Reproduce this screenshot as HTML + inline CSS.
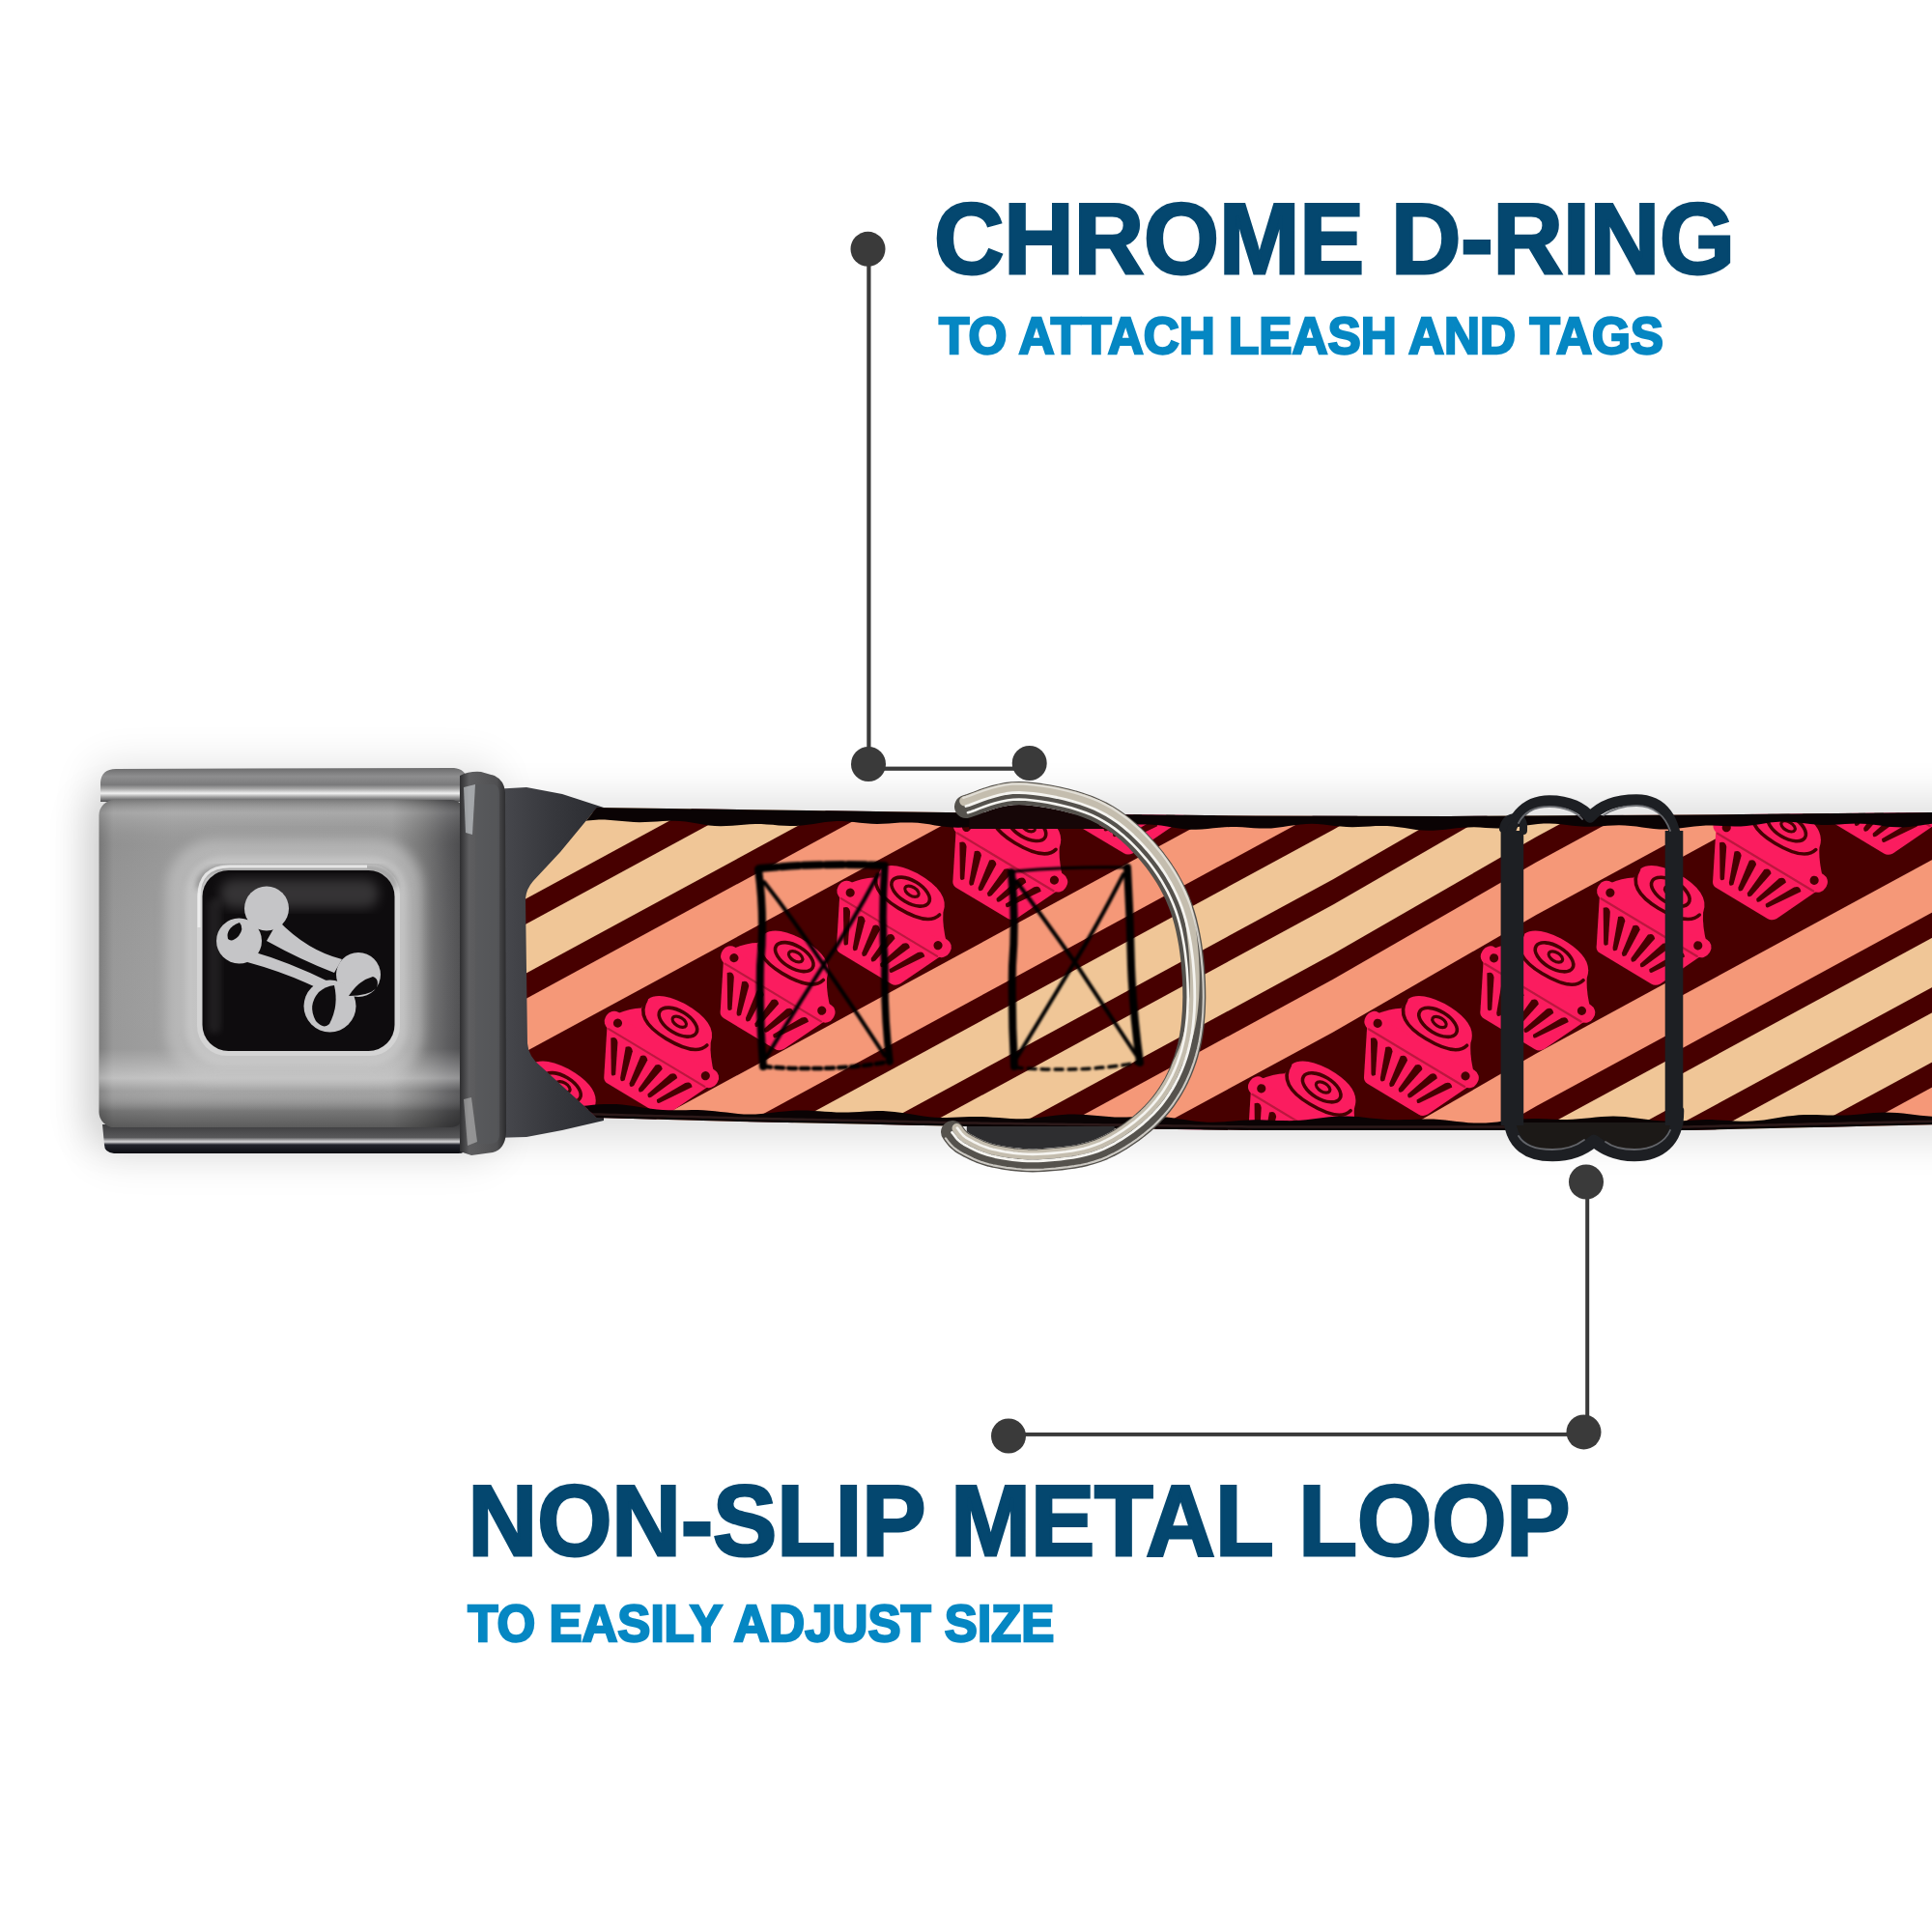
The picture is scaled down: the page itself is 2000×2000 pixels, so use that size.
<!DOCTYPE html>
<html><head><meta charset="utf-8"><title>Chrome D-Ring Collar</title>
<style>
html,body{margin:0;padding:0;background:#fff;width:2000px;height:2000px;overflow:hidden}
svg{display:block}
text{font-family:"Liberation Sans",sans-serif;font-weight:bold}
</style></head><body>
<svg width="2000" height="2000" viewBox="0 0 2000 2000">
<defs>
  <filter id="blur22" x="-20%" y="-50%" width="140%" height="200%"><feGaussianBlur stdDeviation="22"/></filter>
  <filter id="blur6" x="-20%" y="-20%" width="140%" height="140%"><feGaussianBlur stdDeviation="6"/></filter>
  <filter id="blur3" x="-20%" y="-20%" width="140%" height="140%"><feGaussianBlur stdDeviation="3"/></filter>
  <filter id="soft" x="0" y="0" width="1" height="1" filterUnits="objectBoundingBox"><feGaussianBlur stdDeviation="0.7"/></filter>
  <filter id="blur1" x="-10%" y="-10%" width="120%" height="120%"><feGaussianBlur stdDeviation="1.1"/></filter>
  <clipPath id="strapClip">
    <path d="M618,836 L800,838.5 L980,841 L1300,844.5 L1500,845 L1745,843.5 L2010,841 L2010,1164 L1745,1170 L1300,1170 L1000,1166 L911,1164 L766,1161 L618,1157 L560,1104 Q547,1094 546,1080 L544,930 Q545,920 552,912 L580,882 Z"/>
  </clipPath>
  <linearGradient id="faceH" x1="102" y1="0" x2="482" y2="0" gradientUnits="userSpaceOnUse">
    <stop offset="0" stop-color="#7c7c7c"/>
    <stop offset="0.04" stop-color="#999999"/>
    <stop offset="0.2" stop-color="#a0a0a0"/>
    <stop offset="0.8" stop-color="#9c9c9c"/>
    <stop offset="0.88" stop-color="#7e7e7e"/>
    <stop offset="0.95" stop-color="#5e5e60"/>
    <stop offset="1" stop-color="#4c4c4e"/>
  </linearGradient>
  <linearGradient id="faceV" x1="0" y1="828" x2="0" y2="1167" gradientUnits="userSpaceOnUse">
    <stop offset="0" stop-color="#000" stop-opacity="0.22"/>
    <stop offset="0.04" stop-color="#fff" stop-opacity="0.12"/>
    <stop offset="0.14" stop-color="#000" stop-opacity="0.05"/>
    <stop offset="0.76" stop-color="#fff" stop-opacity="0"/>
    <stop offset="0.85" stop-color="#fff" stop-opacity="0.38"/>
    <stop offset="0.89" stop-color="#fff" stop-opacity="0.05"/>
    <stop offset="0.95" stop-color="#000" stop-opacity="0.25"/>
    <stop offset="1" stop-color="#000" stop-opacity="0.42"/>
  </linearGradient>
  <linearGradient id="topPlate" x1="0" y1="795" x2="0" y2="830" gradientUnits="userSpaceOnUse">
    <stop offset="0" stop-color="#6c6c6d"/>
    <stop offset="0.25" stop-color="#8e8e8f"/>
    <stop offset="0.5" stop-color="#7a7a7b"/>
    <stop offset="0.62" stop-color="#a8a8a8"/>
    <stop offset="0.75" stop-color="#f0f0f0"/>
    <stop offset="0.86" stop-color="#a0a0a0"/>
    <stop offset="1" stop-color="#4e4e50"/>
  </linearGradient>
  <linearGradient id="botPlate" x1="0" y1="1164" x2="0" y2="1194" gradientUnits="userSpaceOnUse">
    <stop offset="0" stop-color="#3c3c3e"/>
    <stop offset="0.45" stop-color="#58585a"/>
    <stop offset="0.6" stop-color="#d8d8da"/>
    <stop offset="0.7" stop-color="#22242c"/>
    <stop offset="1" stop-color="#0c0d12"/>
  </linearGradient>
  <linearGradient id="clipG" x1="476" y1="0" x2="524" y2="0" gradientUnits="userSpaceOnUse">
    <stop offset="0" stop-color="#2e2e30"/>
    <stop offset="0.2" stop-color="#5e5e60"/>
    <stop offset="0.8" stop-color="#505052"/>
    <stop offset="1" stop-color="#2a2a2c"/>
  </linearGradient>
  <linearGradient id="gloss" x1="0" y1="912" x2="0" y2="962" gradientUnits="userSpaceOnUse">
    <stop offset="0" stop-color="#fff" stop-opacity="0.0"/>
    <stop offset="0.3" stop-color="#fff" stop-opacity="0.14"/>
    <stop offset="1" stop-color="#fff" stop-opacity="0"/>
  </linearGradient>
<linearGradient id="webG" x1="510" y1="0" x2="625" y2="0" gradientUnits="userSpaceOnUse">
    <stop offset="0" stop-color="#4a4b50"/>
    <stop offset="0.5" stop-color="#38393e"/>
    <stop offset="1" stop-color="#2a2b30"/>
  </linearGradient>
<clipPath id="rg1"><rect x="0" y="700" width="1380" height="600"/></clipPath>
  <clipPath id="rg2"><rect x="1380" y="700" width="210" height="600"/></clipPath>
  <clipPath id="rg3"><rect x="1590" y="700" width="143" height="600"/></clipPath>
  <clipPath id="rg4"><rect x="1733" y="700" width="400" height="600"/></clipPath>
<g id="cup">
  <path d="M-62,6 L62,6 L40,54 Q37,59 32,59 L-30,59 Q-35,59 -37,54 Z" fill="#fb1f5e"/>
  <g fill="#470306"><path d="M-51.2,17 Q-47,12 -42.8,17 L-27.4,47 Q-30,52 -32.6,47 Z"/><path d="M-33.2,17 Q-29,12 -24.8,17 L-16.4,47 Q-19,52 -21.6,47 Z"/><path d="M-15.2,17 Q-11,12 -6.8,17 L-5.4,47 Q-8,52 -10.6,47 Z"/><path d="M2.8,17 Q7,12 11.2,17 L5.6,47 Q3,52 0.3999999999999999,47 Z"/><path d="M20.8,17 Q25,12 29.2,17 L16.6,47 Q14,52 11.4,47 Z"/><path d="M38.8,17 Q43,12 47.2,17 L27.6,47 Q25,52 22.4,47 Z"/></g>
  <rect x="-67" y="-10" width="134" height="20" rx="9" fill="#fb1f5e"/>
  <path d="M-60,-6 Q-50,-20 -40,-26 Q-44,-50 -4,-53 Q36,-54 40,-32 Q46,-20 60,-6 Z" fill="#fb1f5e"/>
  <g fill="none" stroke="#470306" stroke-linecap="round">
    <path d="M-58,10 L58,10" stroke-width="2.2" opacity="0.35"/>
    <path d="M-40,-36 Q-40,-12 -2,-12 Q34,-12 38,-28" stroke-width="3.6"/>
    <ellipse cx="0" cy="-33" rx="22" ry="11.5" stroke-width="3.6"/>
    <ellipse cx="1" cy="-34" rx="8" ry="4.5" stroke-width="3.2"/>
  </g>
  <circle cx="-53" cy="0" r="4.6" fill="#470306"/>
  <circle cx="53" cy="0" r="4.6" fill="#470306"/>
</g>
</defs>
<rect width="2000" height="2000" fill="#ffffff"/>

<!-- soft shadows -->
<rect x="90" y="828" width="2000" height="350" fill="#000" opacity="0.13" filter="url(#blur22)"/>
<rect x="95" y="790" width="420" height="410" rx="20" fill="#000" opacity="0.10" filter="url(#blur22)"/>

<!-- dark webbing near buckle -->
<path d="M510,817 L545,815 L582,822 L625,836 L625,1160 L582,1170 L545,1177 L510,1178 Z" fill="url(#webG)"/>
<path d="M516,822 L524,822 L524,1172 L516,1172 Z" fill="#47484c" opacity="0.8"/>

<!-- strap pattern -->
<g clip-path="url(#strapClip)"><g filter="url(#soft)">
  <rect x="500" y="800" width="1520" height="400" fill="#470306"/>
<g clip-path="url(#rg1)"><g transform="rotate(-28.5)"><rect x="-200" y="199.4" width="2800" height="48.0" fill="#f59878"/>
<rect x="-200" y="270.4" width="2800" height="45.0" fill="#f0c697"/>
<rect x="-200" y="338.4" width="2800" height="45.0" fill="#f0c697"/>
<rect x="-200" y="406.4" width="2800" height="48.0" fill="#f59878"/>
<rect x="-200" y="580.4" width="2800" height="48.0" fill="#f59878"/>
<rect x="-200" y="651.4" width="2800" height="45.0" fill="#f0c697"/>
<rect x="-200" y="719.4" width="2800" height="45.0" fill="#f0c697"/>
<rect x="-200" y="787.4" width="2800" height="48.0" fill="#f59878"/>
<rect x="-200" y="961.4" width="2800" height="48.0" fill="#f59878"/>
<rect x="-200" y="1032.4" width="2800" height="45.0" fill="#f0c697"/>
<rect x="-200" y="1100.4" width="2800" height="45.0" fill="#f0c697"/>
<rect x="-200" y="1168.4" width="2800" height="48.0" fill="#f59878"/>
<rect x="-200" y="1342.4" width="2800" height="48.0" fill="#f59878"/>
<rect x="-200" y="1413.4" width="2800" height="45.0" fill="#f0c697"/>
<rect x="-200" y="1481.4" width="2800" height="45.0" fill="#f0c697"/>
<rect x="-200" y="1549.4" width="2800" height="48.0" fill="#f59878"/>
<rect x="-200" y="1723.4" width="2800" height="48.0" fill="#f59878"/>
<rect x="-200" y="1794.4" width="2800" height="45.0" fill="#f0c697"/>
<rect x="-200" y="1862.4" width="2800" height="45.0" fill="#f0c697"/>
<rect x="-200" y="1930.4" width="2800" height="48.0" fill="#f59878"/>
<rect x="-200" y="2104.4" width="2800" height="48.0" fill="#f59878"/>
<rect x="-200" y="2175.4" width="2800" height="45.0" fill="#f0c697"/>
<rect x="-200" y="2243.4" width="2800" height="45.0" fill="#f0c697"/>
<rect x="-200" y="2311.4" width="2800" height="48.0" fill="#f59878"/>
<rect x="-200" y="2485.4" width="2800" height="48.0" fill="#f59878"/>
<rect x="-200" y="2556.4" width="2800" height="45.0" fill="#f0c697"/>
<rect x="-200" y="2624.4" width="2800" height="45.0" fill="#f0c697"/>
<rect x="-200" y="2692.4" width="2800" height="48.0" fill="#f59878"/></g></g>
<g clip-path="url(#rg2)"><g transform="matrix(1,-0.033333,0,1,0,46.000)"><g transform="rotate(-28.5)"><rect x="-200" y="199.4" width="2800" height="48.0" fill="#f59878"/>
<rect x="-200" y="270.4" width="2800" height="45.0" fill="#f0c697"/>
<rect x="-200" y="338.4" width="2800" height="45.0" fill="#f0c697"/>
<rect x="-200" y="406.4" width="2800" height="48.0" fill="#f59878"/>
<rect x="-200" y="580.4" width="2800" height="48.0" fill="#f59878"/>
<rect x="-200" y="651.4" width="2800" height="45.0" fill="#f0c697"/>
<rect x="-200" y="719.4" width="2800" height="45.0" fill="#f0c697"/>
<rect x="-200" y="787.4" width="2800" height="48.0" fill="#f59878"/>
<rect x="-200" y="961.4" width="2800" height="48.0" fill="#f59878"/>
<rect x="-200" y="1032.4" width="2800" height="45.0" fill="#f0c697"/>
<rect x="-200" y="1100.4" width="2800" height="45.0" fill="#f0c697"/>
<rect x="-200" y="1168.4" width="2800" height="48.0" fill="#f59878"/>
<rect x="-200" y="1342.4" width="2800" height="48.0" fill="#f59878"/>
<rect x="-200" y="1413.4" width="2800" height="45.0" fill="#f0c697"/>
<rect x="-200" y="1481.4" width="2800" height="45.0" fill="#f0c697"/>
<rect x="-200" y="1549.4" width="2800" height="48.0" fill="#f59878"/>
<rect x="-200" y="1723.4" width="2800" height="48.0" fill="#f59878"/>
<rect x="-200" y="1794.4" width="2800" height="45.0" fill="#f0c697"/>
<rect x="-200" y="1862.4" width="2800" height="45.0" fill="#f0c697"/>
<rect x="-200" y="1930.4" width="2800" height="48.0" fill="#f59878"/>
<rect x="-200" y="2104.4" width="2800" height="48.0" fill="#f59878"/>
<rect x="-200" y="2175.4" width="2800" height="45.0" fill="#f0c697"/>
<rect x="-200" y="2243.4" width="2800" height="45.0" fill="#f0c697"/>
<rect x="-200" y="2311.4" width="2800" height="48.0" fill="#f59878"/>
<rect x="-200" y="2485.4" width="2800" height="48.0" fill="#f59878"/>
<rect x="-200" y="2556.4" width="2800" height="45.0" fill="#f0c697"/>
<rect x="-200" y="2624.4" width="2800" height="45.0" fill="#f0c697"/>
<rect x="-200" y="2692.4" width="2800" height="48.0" fill="#f59878"/></g></g></g>
<g clip-path="url(#rg3)"><g transform="translate(0,-7)"><g transform="rotate(-28.5)"><rect x="-200" y="199.4" width="2800" height="48.0" fill="#f59878"/>
<rect x="-200" y="270.4" width="2800" height="45.0" fill="#f0c697"/>
<rect x="-200" y="338.4" width="2800" height="45.0" fill="#f0c697"/>
<rect x="-200" y="406.4" width="2800" height="48.0" fill="#f59878"/>
<rect x="-200" y="580.4" width="2800" height="48.0" fill="#f59878"/>
<rect x="-200" y="651.4" width="2800" height="45.0" fill="#f0c697"/>
<rect x="-200" y="719.4" width="2800" height="45.0" fill="#f0c697"/>
<rect x="-200" y="787.4" width="2800" height="48.0" fill="#f59878"/>
<rect x="-200" y="961.4" width="2800" height="48.0" fill="#f59878"/>
<rect x="-200" y="1032.4" width="2800" height="45.0" fill="#f0c697"/>
<rect x="-200" y="1100.4" width="2800" height="45.0" fill="#f0c697"/>
<rect x="-200" y="1168.4" width="2800" height="48.0" fill="#f59878"/>
<rect x="-200" y="1342.4" width="2800" height="48.0" fill="#f59878"/>
<rect x="-200" y="1413.4" width="2800" height="45.0" fill="#f0c697"/>
<rect x="-200" y="1481.4" width="2800" height="45.0" fill="#f0c697"/>
<rect x="-200" y="1549.4" width="2800" height="48.0" fill="#f59878"/>
<rect x="-200" y="1723.4" width="2800" height="48.0" fill="#f59878"/>
<rect x="-200" y="1794.4" width="2800" height="45.0" fill="#f0c697"/>
<rect x="-200" y="1862.4" width="2800" height="45.0" fill="#f0c697"/>
<rect x="-200" y="1930.4" width="2800" height="48.0" fill="#f59878"/>
<rect x="-200" y="2104.4" width="2800" height="48.0" fill="#f59878"/>
<rect x="-200" y="2175.4" width="2800" height="45.0" fill="#f0c697"/>
<rect x="-200" y="2243.4" width="2800" height="45.0" fill="#f0c697"/>
<rect x="-200" y="2311.4" width="2800" height="48.0" fill="#f59878"/>
<rect x="-200" y="2485.4" width="2800" height="48.0" fill="#f59878"/>
<rect x="-200" y="2556.4" width="2800" height="45.0" fill="#f0c697"/>
<rect x="-200" y="2624.4" width="2800" height="45.0" fill="#f0c697"/>
<rect x="-200" y="2692.4" width="2800" height="48.0" fill="#f59878"/></g></g></g>
<g clip-path="url(#rg4)"><g transform="translate(0,15)"><g transform="rotate(-28.5)"><rect x="-200" y="199.4" width="2800" height="48.0" fill="#f59878"/>
<rect x="-200" y="270.4" width="2800" height="45.0" fill="#f0c697"/>
<rect x="-200" y="338.4" width="2800" height="45.0" fill="#f0c697"/>
<rect x="-200" y="406.4" width="2800" height="48.0" fill="#f59878"/>
<rect x="-200" y="580.4" width="2800" height="48.0" fill="#f59878"/>
<rect x="-200" y="651.4" width="2800" height="45.0" fill="#f0c697"/>
<rect x="-200" y="719.4" width="2800" height="45.0" fill="#f0c697"/>
<rect x="-200" y="787.4" width="2800" height="48.0" fill="#f59878"/>
<rect x="-200" y="961.4" width="2800" height="48.0" fill="#f59878"/>
<rect x="-200" y="1032.4" width="2800" height="45.0" fill="#f0c697"/>
<rect x="-200" y="1100.4" width="2800" height="45.0" fill="#f0c697"/>
<rect x="-200" y="1168.4" width="2800" height="48.0" fill="#f59878"/>
<rect x="-200" y="1342.4" width="2800" height="48.0" fill="#f59878"/>
<rect x="-200" y="1413.4" width="2800" height="45.0" fill="#f0c697"/>
<rect x="-200" y="1481.4" width="2800" height="45.0" fill="#f0c697"/>
<rect x="-200" y="1549.4" width="2800" height="48.0" fill="#f59878"/>
<rect x="-200" y="1723.4" width="2800" height="48.0" fill="#f59878"/>
<rect x="-200" y="1794.4" width="2800" height="45.0" fill="#f0c697"/>
<rect x="-200" y="1862.4" width="2800" height="45.0" fill="#f0c697"/>
<rect x="-200" y="1930.4" width="2800" height="48.0" fill="#f59878"/>
<rect x="-200" y="2104.4" width="2800" height="48.0" fill="#f59878"/>
<rect x="-200" y="2175.4" width="2800" height="45.0" fill="#f0c697"/>
<rect x="-200" y="2243.4" width="2800" height="45.0" fill="#f0c697"/>
<rect x="-200" y="2311.4" width="2800" height="48.0" fill="#f59878"/>
<rect x="-200" y="2485.4" width="2800" height="48.0" fill="#f59878"/>
<rect x="-200" y="2556.4" width="2800" height="45.0" fill="#f0c697"/>
<rect x="-200" y="2624.4" width="2800" height="45.0" fill="#f0c697"/>
<rect x="-200" y="2692.4" width="2800" height="48.0" fill="#f59878"/></g></g></g>
<use href="#cup" transform="translate(444.1,1221.4) rotate(31)"/>
<use href="#cup" transform="translate(564.5,1153.9) rotate(31)"/>
<use href="#cup" transform="translate(684.9,1086.4) rotate(31)"/>
<use href="#cup" transform="translate(805.3,1018.9) rotate(31)"/>
<use href="#cup" transform="translate(925.6,951.4) rotate(31)"/>
<use href="#cup" transform="translate(1046.0,883.8) rotate(31)"/>
<use href="#cup" transform="translate(1166.4,816.3) rotate(31)"/>
<use href="#cup" transform="translate(1230.9,1221.6) rotate(31)"/>
<use href="#cup" transform="translate(1351.2,1154.1) rotate(31)"/>
<use href="#cup" transform="translate(1471.6,1086.6) rotate(31)"/>
<use href="#cup" transform="translate(1592.0,1019.1) rotate(31)"/>
<use href="#cup" transform="translate(1712.3,951.5) rotate(31)"/>
<use href="#cup" transform="translate(1832.7,884.0) rotate(31)"/>
<use href="#cup" transform="translate(1953.1,816.5) rotate(31)"/>
  </g>
  <!-- top/bottom woven edges -->
<path d="M500,828.0 L506,828.1 L512,828.2 L518,828.3 L524,828.4 L530,828.5 L536,828.6 L542,828.7 L548,828.8 L554,828.9 L560,829.0 L566,829.1 L572,829.2 L578,829.3 L584,829.4 L590,829.5 L596,829.6 L602,829.7 L608,829.8 L614,829.9 L620,830.0 L626,830.1 L632,830.2 L638,830.3 L644,830.4 L650,830.4 L656,830.5 L662,830.6 L668,830.7 L674,830.8 L680,830.9 L686,830.9 L692,831.0 L698,831.1 L704,831.2 L710,831.3 L716,831.3 L722,831.4 L728,831.5 L734,831.6 L740,831.7 L746,831.8 L752,831.8 L758,831.9 L764,832.0 L770,832.1 L776,832.2 L782,832.3 L788,832.3 L794,832.4 L800,832.5 L806,832.6 L812,832.7 L818,832.8 L824,832.8 L830,832.9 L836,833.0 L842,833.1 L848,833.2 L854,833.2 L860,833.3 L866,833.4 L872,833.5 L878,833.6 L884,833.7 L890,833.8 L896,833.8 L902,833.9 L908,834.0 L914,834.1 L920,834.2 L926,834.2 L932,834.3 L938,834.4 L944,834.5 L950,834.6 L956,834.7 L962,834.8 L968,834.8 L974,834.9 L980,835.0 L986,835.1 L992,835.1 L998,835.2 L1004,835.3 L1010,835.3 L1016,835.4 L1022,835.5 L1028,835.5 L1034,835.6 L1040,835.7 L1046,835.7 L1052,835.8 L1058,835.9 L1064,835.9 L1070,836.0 L1076,836.0 L1082,836.1 L1088,836.2 L1094,836.2 L1100,836.3 L1106,836.4 L1112,836.4 L1118,836.5 L1124,836.6 L1130,836.6 L1136,836.7 L1142,836.8 L1148,836.8 L1154,836.9 L1160,837.0 L1166,837.0 L1172,837.1 L1178,837.2 L1184,837.2 L1190,837.3 L1196,837.4 L1202,837.4 L1208,837.5 L1214,837.6 L1220,837.6 L1226,837.7 L1232,837.8 L1238,837.8 L1244,837.9 L1250,838.0 L1256,838.0 L1262,838.1 L1268,838.1 L1274,838.2 L1280,838.3 L1286,838.3 L1292,838.4 L1298,838.5 L1304,838.5 L1310,838.5 L1316,838.5 L1322,838.6 L1328,838.6 L1334,838.6 L1340,838.6 L1346,838.6 L1352,838.6 L1358,838.6 L1364,838.7 L1370,838.7 L1376,838.7 L1382,838.7 L1388,838.7 L1394,838.7 L1400,838.8 L1406,838.8 L1412,838.8 L1418,838.8 L1424,838.8 L1430,838.8 L1436,838.8 L1442,838.9 L1448,838.9 L1454,838.9 L1460,838.9 L1466,838.9 L1472,838.9 L1478,838.9 L1484,839.0 L1490,839.0 L1496,839.0 L1502,839.0 L1508,839.0 L1514,838.9 L1520,838.9 L1526,838.8 L1532,838.8 L1538,838.8 L1544,838.7 L1550,838.7 L1556,838.7 L1562,838.6 L1568,838.6 L1574,838.5 L1580,838.5 L1586,838.5 L1592,838.4 L1598,838.4 L1604,838.4 L1610,838.3 L1616,838.3 L1622,838.3 L1628,838.2 L1634,838.2 L1640,838.1 L1646,838.1 L1652,838.1 L1658,838.0 L1664,838.0 L1670,838.0 L1676,837.9 L1682,837.9 L1688,837.8 L1694,837.8 L1700,837.8 L1706,837.7 L1712,837.7 L1718,837.7 L1724,837.6 L1730,837.6 L1736,837.6 L1742,837.5 L1748,837.5 L1754,837.4 L1760,837.4 L1766,837.3 L1772,837.2 L1778,837.2 L1784,837.1 L1790,837.1 L1796,837.0 L1802,837.0 L1808,836.9 L1814,836.8 L1820,836.8 L1826,836.7 L1832,836.7 L1838,836.6 L1844,836.6 L1850,836.5 L1856,836.5 L1862,836.4 L1868,836.3 L1874,836.3 L1880,836.2 L1886,836.2 L1892,836.1 L1898,836.1 L1904,836.0 L1910,835.9 L1916,835.9 L1922,835.8 L1928,835.8 L1934,835.7 L1940,835.7 L1946,835.6 L1952,835.5 L1958,835.5 L1964,835.4 L1970,835.4 L1976,835.3 L1982,835.3 L1988,835.2 L1994,835.2 L2000,835.1 L2006,835.0 L2006,852.2 L2000,852.8 L1994,853.6 L1988,854.5 L1982,855.3 L1976,856.0 L1970,856.4 L1964,856.3 L1958,856.0 L1952,855.4 L1946,854.6 L1940,853.8 L1934,853.1 L1928,852.7 L1922,852.6 L1916,852.7 L1910,853.0 L1904,853.5 L1898,853.8 L1892,854.0 L1886,854.0 L1880,853.6 L1874,853.1 L1868,852.3 L1862,851.6 L1856,851.0 L1850,850.6 L1844,850.6 L1838,851.0 L1832,851.6 L1826,852.5 L1820,853.4 L1814,854.3 L1808,855.0 L1802,855.4 L1796,855.4 L1790,855.3 L1784,855.0 L1778,854.7 L1772,854.5 L1766,854.5 L1760,854.9 L1754,855.4 L1748,856.2 L1742,857.1 L1736,857.8 L1730,858.4 L1724,858.6 L1718,858.5 L1712,858.0 L1706,857.2 L1700,856.4 L1694,855.5 L1688,854.9 L1682,854.4 L1676,854.3 L1670,854.5 L1664,854.8 L1658,855.2 L1652,855.6 L1646,855.8 L1640,855.7 L1634,855.3 L1628,854.7 L1622,854.0 L1616,853.3 L1610,852.7 L1604,852.5 L1598,852.5 L1592,853.0 L1586,853.7 L1580,854.6 L1574,855.6 L1568,856.4 L1562,857.1 L1556,857.4 L1550,857.4 L1544,857.2 L1538,856.9 L1532,856.5 L1526,856.3 L1520,856.4 L1514,856.7 L1508,857.2 L1502,858.0 L1496,858.7 L1490,859.3 L1484,859.7 L1478,859.8 L1472,859.5 L1466,858.9 L1460,858.0 L1454,857.1 L1448,856.2 L1442,855.5 L1436,855.0 L1430,854.9 L1424,855.0 L1418,855.4 L1412,855.8 L1406,856.1 L1400,856.2 L1394,856.0 L1388,855.6 L1382,855.0 L1376,854.2 L1370,853.6 L1364,853.0 L1358,852.8 L1352,853.0 L1346,853.5 L1340,854.2 L1334,855.1 L1328,856.1 L1322,856.8 L1316,857.4 L1310,857.6 L1304,857.5 L1298,857.2 L1292,856.8 L1286,856.3 L1280,856.1 L1274,856.0 L1268,856.2 L1262,856.7 L1256,857.3 L1250,858.0 L1244,858.5 L1238,858.7 L1232,858.7 L1226,858.2 L1220,857.5 L1214,856.6 L1208,855.6 L1202,854.6 L1196,853.9 L1190,853.5 L1184,853.4 L1178,853.5 L1172,853.9 L1166,854.2 L1160,854.5 L1154,854.6 L1148,854.4 L1142,854.0 L1136,853.4 L1130,852.7 L1124,852.0 L1118,851.6 L1112,851.4 L1106,851.6 L1100,852.2 L1094,853.0 L1088,853.9 L1082,854.8 L1076,855.5 L1070,856.0 L1064,856.1 L1058,856.0 L1052,855.6 L1046,855.1 L1040,854.7 L1034,854.4 L1028,854.3 L1022,854.5 L1016,855.0 L1010,855.6 L1004,856.1 L998,856.6 L992,856.8 L986,856.6 L980,856.1 L974,855.3 L968,854.4 L962,853.3 L956,852.4 L950,851.8 L944,851.4 L938,851.4 L932,851.6 L926,852.0 L920,852.4 L914,852.8 L908,852.9 L902,852.7 L896,852.3 L890,851.7 L884,851.0 L878,850.5 L872,850.1 L866,850.1 L860,850.4 L854,851.1 L848,851.9 L842,852.9 L836,853.8 L830,854.5 L824,854.9 L818,855.0 L812,854.8 L806,854.4 L800,853.8 L794,853.4 L788,853.1 L782,853.1 L776,853.3 L770,853.7 L764,854.3 L758,854.8 L752,855.1 L746,855.2 L740,855.0 L734,854.4 L728,853.5 L722,852.5 L716,851.5 L710,850.6 L704,850.0 L698,849.7 L692,849.7 L686,850.0 L680,850.4 L674,850.8 L668,851.1 L662,851.2 L656,851.0 L650,850.6 L644,850.0 L638,849.4 L632,848.9 L626,848.6 L620,848.6 L614,848.9 L608,849.6 L602,850.4 L596,851.3 L590,852.2 L584,852.8 L578,853.1 L572,853.0 L566,852.7 L560,852.2 L554,851.6 L548,851.0 L542,850.6 L536,850.5 L530,850.7 L524,851.1 L518,851.5 L512,851.9 L506,852.1 L500,852.1 Z" fill="#0a0304"/>
<path d="M500,1148.5 L506,1148.2 L512,1147.7 L518,1147.1 L524,1146.4 L530,1145.8 L536,1145.3 L542,1145.0 L548,1144.9 L554,1144.9 L560,1145.1 L566,1145.4 L572,1145.7 L578,1145.9 L584,1145.9 L590,1145.8 L596,1145.4 L602,1145.0 L608,1144.4 L614,1143.7 L620,1143.2 L626,1142.9 L632,1142.9 L638,1143.0 L644,1143.5 L650,1144.2 L656,1145.0 L662,1146.0 L668,1146.9 L674,1147.8 L680,1148.5 L686,1149.0 L692,1149.2 L698,1149.3 L704,1149.3 L710,1149.2 L716,1149.1 L722,1149.1 L728,1149.3 L734,1149.7 L740,1150.2 L746,1150.9 L752,1151.6 L758,1152.3 L764,1153.0 L770,1153.4 L776,1153.5 L782,1153.4 L788,1153.1 L794,1152.5 L800,1151.8 L806,1151.1 L812,1150.4 L818,1149.9 L824,1149.6 L830,1149.5 L836,1149.6 L842,1149.9 L848,1150.3 L854,1150.7 L860,1151.1 L866,1151.4 L872,1151.5 L878,1151.4 L884,1151.2 L890,1150.9 L896,1150.5 L902,1150.2 L908,1150.1 L914,1150.1 L920,1150.4 L926,1150.9 L932,1151.7 L938,1152.6 L944,1153.6 L950,1154.6 L956,1155.5 L962,1156.2 L968,1156.7 L974,1156.9 L980,1156.9 L986,1156.8 L992,1156.5 L998,1156.3 L1004,1156.1 L1010,1156.0 L1016,1156.0 L1022,1156.3 L1028,1156.7 L1034,1157.1 L1040,1157.6 L1046,1157.9 L1052,1158.2 L1058,1158.2 L1064,1157.9 L1070,1157.4 L1076,1156.8 L1082,1156.0 L1088,1155.2 L1094,1154.5 L1100,1153.9 L1106,1153.6 L1112,1153.5 L1118,1153.7 L1124,1154.0 L1130,1154.5 L1136,1155.1 L1142,1155.6 L1148,1156.1 L1154,1156.4 L1160,1156.5 L1166,1156.4 L1172,1156.2 L1178,1156.0 L1184,1155.8 L1190,1155.7 L1196,1155.8 L1202,1156.1 L1208,1156.6 L1214,1157.3 L1220,1158.2 L1226,1159.1 L1232,1160.0 L1238,1160.8 L1244,1161.3 L1250,1161.7 L1256,1161.7 L1262,1161.5 L1268,1161.2 L1274,1160.7 L1280,1160.2 L1286,1159.8 L1292,1159.4 L1298,1159.3 L1304,1159.3 L1310,1159.4 L1316,1159.7 L1322,1159.9 L1328,1160.1 L1334,1160.2 L1340,1160.1 L1346,1159.8 L1352,1159.3 L1358,1158.6 L1364,1157.8 L1370,1157.0 L1376,1156.3 L1382,1155.8 L1388,1155.5 L1394,1155.5 L1400,1155.7 L1406,1156.1 L1412,1156.7 L1418,1157.4 L1424,1158.1 L1430,1158.6 L1436,1159.0 L1442,1159.2 L1448,1159.2 L1454,1159.1 L1460,1158.9 L1466,1158.7 L1472,1158.5 L1478,1158.5 L1484,1158.6 L1490,1159.0 L1496,1159.6 L1502,1160.2 L1508,1160.9 L1514,1161.6 L1520,1162.2 L1526,1162.5 L1532,1162.6 L1538,1162.4 L1544,1162.0 L1550,1161.4 L1556,1160.6 L1562,1159.9 L1568,1159.2 L1574,1158.6 L1580,1158.3 L1586,1158.1 L1592,1158.1 L1598,1158.3 L1604,1158.6 L1610,1158.8 L1616,1158.9 L1622,1158.9 L1628,1158.7 L1634,1158.3 L1640,1157.8 L1646,1157.2 L1652,1156.6 L1658,1156.0 L1664,1155.7 L1670,1155.5 L1676,1155.7 L1682,1156.1 L1688,1156.7 L1694,1157.4 L1700,1158.2 L1706,1159.0 L1712,1159.7 L1718,1160.2 L1724,1160.5 L1730,1160.6 L1736,1160.5 L1742,1160.2 L1748,1159.9 L1754,1159.5 L1760,1159.2 L1766,1159.1 L1772,1159.1 L1778,1159.4 L1784,1159.7 L1790,1160.1 L1796,1160.5 L1802,1160.7 L1808,1160.7 L1814,1160.5 L1820,1160.1 L1826,1159.4 L1832,1158.5 L1838,1157.5 L1844,1156.5 L1850,1155.6 L1856,1154.9 L1862,1154.3 L1868,1154.0 L1874,1153.9 L1880,1154.0 L1886,1154.2 L1892,1154.4 L1898,1154.6 L1904,1154.6 L1910,1154.5 L1916,1154.2 L1922,1153.7 L1928,1153.2 L1934,1152.6 L1940,1152.1 L1946,1151.7 L1952,1151.6 L1958,1151.7 L1964,1152.1 L1970,1152.6 L1976,1153.3 L1982,1154.1 L1988,1154.8 L1994,1155.3 L2000,1155.7 L2006,1155.8 L2006,1170.1 L2000,1170.2 L1994,1170.4 L1988,1170.5 L1982,1170.6 L1976,1170.8 L1970,1170.9 L1964,1171.0 L1958,1171.2 L1952,1171.3 L1946,1171.4 L1940,1171.6 L1934,1171.7 L1928,1171.9 L1922,1172.0 L1916,1172.1 L1910,1172.3 L1904,1172.4 L1898,1172.5 L1892,1172.7 L1886,1172.8 L1880,1172.9 L1874,1173.1 L1868,1173.2 L1862,1173.4 L1856,1173.5 L1850,1173.6 L1844,1173.8 L1838,1173.9 L1832,1174.0 L1826,1174.2 L1820,1174.3 L1814,1174.4 L1808,1174.6 L1802,1174.7 L1796,1174.8 L1790,1175.0 L1784,1175.1 L1778,1175.3 L1772,1175.4 L1766,1175.5 L1760,1175.7 L1754,1175.8 L1748,1175.9 L1742,1176.0 L1736,1176.0 L1730,1176.0 L1724,1176.0 L1718,1176.0 L1712,1176.0 L1706,1176.0 L1700,1176.0 L1694,1176.0 L1688,1176.0 L1682,1176.0 L1676,1176.0 L1670,1176.0 L1664,1176.0 L1658,1176.0 L1652,1176.0 L1646,1176.0 L1640,1176.0 L1634,1176.0 L1628,1176.0 L1622,1176.0 L1616,1176.0 L1610,1176.0 L1604,1176.0 L1598,1176.0 L1592,1176.0 L1586,1176.0 L1580,1176.0 L1574,1176.0 L1568,1176.0 L1562,1176.0 L1556,1176.0 L1550,1176.0 L1544,1176.0 L1538,1176.0 L1532,1176.0 L1526,1176.0 L1520,1176.0 L1514,1176.0 L1508,1176.0 L1502,1176.0 L1496,1176.0 L1490,1176.0 L1484,1176.0 L1478,1176.0 L1472,1176.0 L1466,1176.0 L1460,1176.0 L1454,1176.0 L1448,1176.0 L1442,1176.0 L1436,1176.0 L1430,1176.0 L1424,1176.0 L1418,1176.0 L1412,1176.0 L1406,1176.0 L1400,1176.0 L1394,1176.0 L1388,1176.0 L1382,1176.0 L1376,1176.0 L1370,1176.0 L1364,1176.0 L1358,1176.0 L1352,1176.0 L1346,1176.0 L1340,1176.0 L1334,1176.0 L1328,1176.0 L1322,1176.0 L1316,1176.0 L1310,1176.0 L1304,1176.0 L1298,1176.0 L1292,1175.9 L1286,1175.8 L1280,1175.7 L1274,1175.7 L1268,1175.6 L1262,1175.5 L1256,1175.4 L1250,1175.3 L1244,1175.3 L1238,1175.2 L1232,1175.1 L1226,1175.0 L1220,1174.9 L1214,1174.9 L1208,1174.8 L1202,1174.7 L1196,1174.6 L1190,1174.5 L1184,1174.5 L1178,1174.4 L1172,1174.3 L1166,1174.2 L1160,1174.1 L1154,1174.1 L1148,1174.0 L1142,1173.9 L1136,1173.8 L1130,1173.7 L1124,1173.7 L1118,1173.6 L1112,1173.5 L1106,1173.4 L1100,1173.3 L1094,1173.3 L1088,1173.2 L1082,1173.1 L1076,1173.0 L1070,1172.9 L1064,1172.9 L1058,1172.8 L1052,1172.7 L1046,1172.6 L1040,1172.5 L1034,1172.5 L1028,1172.4 L1022,1172.3 L1016,1172.2 L1010,1172.1 L1004,1172.1 L998,1172.0 L992,1171.8 L986,1171.7 L980,1171.6 L974,1171.4 L968,1171.3 L962,1171.1 L956,1171.0 L950,1170.9 L944,1170.7 L938,1170.6 L932,1170.5 L926,1170.3 L920,1170.2 L914,1170.1 L908,1169.9 L902,1169.8 L896,1169.7 L890,1169.6 L884,1169.4 L878,1169.3 L872,1169.2 L866,1169.1 L860,1168.9 L854,1168.8 L848,1168.7 L842,1168.6 L836,1168.4 L830,1168.3 L824,1168.2 L818,1168.1 L812,1168.0 L806,1167.8 L800,1167.7 L794,1167.6 L788,1167.5 L782,1167.3 L776,1167.2 L770,1167.1 L764,1166.9 L758,1166.8 L752,1166.6 L746,1166.5 L740,1166.3 L734,1166.1 L728,1166.0 L722,1165.8 L716,1165.6 L710,1165.5 L704,1165.3 L698,1165.2 L692,1165.0 L686,1164.8 L680,1164.7 L674,1164.5 L668,1164.4 L662,1164.2 L656,1164.0 L650,1163.9 L644,1163.7 L638,1163.5 L632,1163.4 L626,1163.2 L620,1163.1 L614,1163.0 L608,1162.9 L602,1162.9 L596,1162.8 L590,1162.8 L584,1162.7 L578,1162.7 L572,1162.6 L566,1162.6 L560,1162.5 L554,1162.5 L548,1162.4 L542,1162.4 L536,1162.3 L530,1162.3 L524,1162.2 L518,1162.2 L512,1162.1 L506,1162.1 L500,1162.0 Z" fill="#0a0304"/>
<path d="M500,1152.5 L506,1152.6 L512,1152.6 L518,1152.7 L524,1152.7 L530,1152.8 L536,1152.8 L542,1152.9 L548,1152.9 L554,1153.0 L560,1153.0 L566,1153.1 L572,1153.1 L578,1153.2 L584,1153.2 L590,1153.3 L596,1153.3 L602,1153.4 L608,1153.4 L614,1153.5 L620,1153.6 L626,1153.7 L632,1153.9 L638,1154.0 L644,1154.2 L650,1154.4 L656,1154.5 L662,1154.7 L668,1154.9 L674,1155.0 L680,1155.2 L686,1155.3 L692,1155.5 L698,1155.7 L704,1155.8 L710,1156.0 L716,1156.1 L722,1156.3 L728,1156.5 L734,1156.6 L740,1156.8 L746,1157.0 L752,1157.1 L758,1157.3 L764,1157.4 L770,1157.6 L776,1157.7 L782,1157.8 L788,1158.0 L794,1158.1 L800,1158.2 L806,1158.3 L812,1158.5 L818,1158.6 L824,1158.7 L830,1158.8 L836,1158.9 L842,1159.1 L848,1159.2 L854,1159.3 L860,1159.4 L866,1159.6 L872,1159.7 L878,1159.8 L884,1159.9 L890,1160.1 L896,1160.2 L902,1160.3 L908,1160.4 L914,1160.6 L920,1160.7 L926,1160.8 L932,1161.0 L938,1161.1 L944,1161.2 L950,1161.4 L956,1161.5 L962,1161.6 L968,1161.8 L974,1161.9 L980,1162.1 L986,1162.2 L992,1162.3 L998,1162.5 L1004,1162.6 L1010,1162.6 L1016,1162.7 L1022,1162.8 L1028,1162.9 L1034,1163.0 L1040,1163.0 L1046,1163.1 L1052,1163.2 L1058,1163.3 L1064,1163.4 L1070,1163.4 L1076,1163.5 L1082,1163.6 L1088,1163.7 L1094,1163.8 L1100,1163.8 L1106,1163.9 L1112,1164.0 L1118,1164.1 L1124,1164.2 L1130,1164.2 L1136,1164.3 L1142,1164.4 L1148,1164.5 L1154,1164.6 L1160,1164.6 L1166,1164.7 L1172,1164.8 L1178,1164.9 L1184,1165.0 L1190,1165.0 L1196,1165.1 L1202,1165.2 L1208,1165.3 L1214,1165.4 L1220,1165.4 L1226,1165.5 L1232,1165.6 L1238,1165.7 L1244,1165.8 L1250,1165.8 L1256,1165.9 L1262,1166.0 L1268,1166.1 L1274,1166.2 L1280,1166.2 L1286,1166.3 L1292,1166.4 L1298,1166.5 L1304,1166.5 L1310,1166.5 L1316,1166.5 L1322,1166.5 L1328,1166.5 L1334,1166.5 L1340,1166.5 L1346,1166.5 L1352,1166.5 L1358,1166.5 L1364,1166.5 L1370,1166.5 L1376,1166.5 L1382,1166.5 L1388,1166.5 L1394,1166.5 L1400,1166.5 L1406,1166.5 L1412,1166.5 L1418,1166.5 L1424,1166.5 L1430,1166.5 L1436,1166.5 L1442,1166.5 L1448,1166.5 L1454,1166.5 L1460,1166.5 L1466,1166.5 L1472,1166.5 L1478,1166.5 L1484,1166.5 L1490,1166.5 L1496,1166.5 L1502,1166.5 L1508,1166.5 L1514,1166.5 L1520,1166.5 L1526,1166.5 L1532,1166.5 L1538,1166.5 L1544,1166.5 L1550,1166.5 L1556,1166.5 L1562,1166.5 L1568,1166.5 L1574,1166.5 L1580,1166.5 L1586,1166.5 L1592,1166.5 L1598,1166.5 L1604,1166.5 L1610,1166.5 L1616,1166.5 L1622,1166.5 L1628,1166.5 L1634,1166.5 L1640,1166.5 L1646,1166.5 L1652,1166.5 L1658,1166.5 L1664,1166.5 L1670,1166.5 L1676,1166.5 L1682,1166.5 L1688,1166.5 L1694,1166.5 L1700,1166.5 L1706,1166.5 L1712,1166.5 L1718,1166.5 L1724,1166.5 L1730,1166.5 L1736,1166.5 L1742,1166.5 L1748,1166.4 L1754,1166.3 L1760,1166.2 L1766,1166.0 L1772,1165.9 L1778,1165.8 L1784,1165.6 L1790,1165.5 L1796,1165.3 L1802,1165.2 L1808,1165.1 L1814,1164.9 L1820,1164.8 L1826,1164.7 L1832,1164.5 L1838,1164.4 L1844,1164.3 L1850,1164.1 L1856,1164.0 L1862,1163.9 L1868,1163.7 L1874,1163.6 L1880,1163.4 L1886,1163.3 L1892,1163.2 L1898,1163.0 L1904,1162.9 L1910,1162.8 L1916,1162.6 L1922,1162.5 L1928,1162.4 L1934,1162.2 L1940,1162.1 L1946,1161.9 L1952,1161.8 L1958,1161.7 L1964,1161.5 L1970,1161.4 L1976,1161.3 L1982,1161.1 L1988,1161.0 L1994,1160.9 L2000,1160.7 L2006,1160.6" fill="none" stroke="#3a2422" stroke-width="2.5" opacity="0.7"/>
</g>

<!-- stitches -->
<g stroke="#050203" fill="none" stroke-linecap="round" filter="url(#blur1)">
  <path d="M785,900 Q792,950 787,1000 Q786,1050 790,1104" stroke-width="8"/>
  <path d="M916,896 Q912,950 916,1000 Q915,1050 921,1099" stroke-width="7.5"/>
  <path d="M786,899 Q850,893 915,896" stroke-width="8" stroke-dasharray="18 5"/>
  <path d="M790,1104 Q860,1110 920,1099" stroke-width="4.5" stroke-dasharray="8 5"/>
  <path d="M791,913 Q820,950 850,995 Q885,1045 916,1093" stroke-width="4"/>
  <path d="M909,905 Q880,960 852,1000 Q820,1050 793,1095" stroke-width="4"/>
  <path d="M1047,903 Q1052,950 1048,1000 Q1047,1050 1050,1104" stroke-width="8"/>
  <path d="M1167,898 Q1170,950 1171,1000 Q1173,1050 1180,1100" stroke-width="8"/>
  <path d="M1050,902 Q1110,897 1166,898" stroke-width="3"/>
  <path d="M1050,1105 Q1120,1111 1178,1100" stroke-width="3.5" stroke-dasharray="8 6"/>
  <path d="M1052,912 Q1080,950 1112,995 Q1145,1045 1176,1092" stroke-width="4"/>
  <path d="M1163,905 Q1135,960 1110,1000 Q1080,1050 1052,1096" stroke-width="4"/>
</g>

<!-- D-ring -->
<g fill="none" stroke-linecap="round" stroke-linejoin="round">
<path d="M1003.5,846.5 L1007.0,845.4 L1011.3,843.9 L1015.9,842.1 L1021.0,840.2 L1026.4,838.3 L1032.0,836.6 L1037.8,835.1 L1043.6,833.9 L1049.3,833.2 L1054.9,833.0 L1061.1,833.3 L1068.2,833.9 L1075.7,834.9 L1083.6,836.2 L1091.6,837.7 L1099.6,839.6 L1107.4,841.6 L1114.8,843.9 L1121.8,846.4 L1128.1,849.0 L1134.0,851.8 L1139.5,854.9 L1144.9,858.2 L1150.1,861.8 L1150.1,858 L1003,858 Z" fill="#160607" stroke="none"/>
<path d="M1153.7,1169.2 L1148.1,1172.5 L1142.5,1175.4 L1137.1,1178.0 L1131.8,1180.2 L1126.3,1182.0 L1120.6,1183.6 L1114.7,1184.9 L1108.7,1186.0 L1102.7,1186.8 L1096.6,1187.6 L1090.7,1188.1 L1084.8,1188.6 L1079.2,1189.0 L1074.0,1189.3 L1069.0,1189.4 L1064.0,1189.3 L1059.1,1189.0 L1054.3,1188.6 L1049.6,1188.1 L1045.0,1187.5 L1040.6,1186.8 L1036.4,1186.0 L1032.5,1185.3 L1029.0,1184.4 L1025.7,1183.5 L1022.5,1182.4 L1019.4,1181.3 L1016.5,1180.0 L1013.7,1178.7 L1011.0,1177.4 L1008.5,1176.1 L1006.1,1174.8 L1004.1,1173.7 L1002.7,1172.8 L1001.7,1172.0 L1000.8,1171.2 L1000.8,1166 L1153.7,1166 Z" fill="#2e2e30" stroke="none"/>
<path d="M1000.0,835.0 L1003.2,834.0 L1007.1,832.6 L1011.7,830.9 L1016.9,828.9 L1022.6,826.9 L1028.7,825.0 L1035.1,823.4 L1041.6,822.0 L1048.3,821.2 L1055.0,821.0 L1062.0,821.3 L1069.5,822.0 L1077.5,823.0 L1085.7,824.4 L1094.1,826.0 L1102.4,827.9 L1110.6,830.1 L1118.6,832.5 L1126.1,835.1 L1133.0,838.0 L1139.5,841.1 L1145.6,844.5 L1151.5,848.2 L1157.2,852.1 L1162.6,856.3 L1167.8,860.7 L1172.9,865.3 L1177.7,870.0 L1182.4,875.0 L1187.0,880.0 L1191.4,885.2 L1195.7,890.6 L1199.8,896.1 L1203.8,901.9 L1207.6,907.8 L1211.1,913.9 L1214.5,920.2 L1217.6,926.6 L1220.4,933.2 L1223.0,940.0 L1225.3,947.0 L1227.4,954.4 L1229.2,962.0 L1230.8,969.8 L1232.2,977.7 L1233.3,985.7 L1234.3,993.7 L1235.0,1001.6 L1235.6,1009.4 L1236.0,1017.0 L1236.2,1024.5 L1236.3,1032.1 L1236.1,1039.7 L1235.8,1047.2 L1235.2,1054.7 L1234.5,1062.1 L1233.5,1069.3 L1232.3,1076.4 L1230.8,1083.3 L1229.0,1090.0 L1227.0,1096.5 L1224.7,1102.8 L1222.3,1109.0 L1219.5,1115.1 L1216.6,1121.0 L1213.4,1126.7 L1209.9,1132.3 L1206.2,1137.7 L1202.2,1143.0 L1198.0,1148.0 L1193.4,1152.9 L1188.5,1157.8 L1183.2,1162.5 L1177.7,1167.0 L1171.9,1171.4 L1166.0,1175.5 L1160.0,1179.4 L1154.0,1182.9 L1148.0,1186.2 L1142.0,1189.0 L1136.0,1191.4 L1129.8,1193.5 L1123.5,1195.2 L1117.1,1196.7 L1110.6,1197.8 L1104.2,1198.7 L1097.9,1199.5 L1091.7,1200.1 L1085.7,1200.6 L1080.0,1201.0 L1074.4,1201.3 L1068.9,1201.4 L1063.6,1201.3 L1058.3,1201.0 L1053.1,1200.6 L1048.1,1200.0 L1043.3,1199.4 L1038.7,1198.6 L1034.2,1197.8 L1030.0,1197.0 L1026.0,1196.1 L1022.1,1195.0 L1018.4,1193.7 L1014.9,1192.4 L1011.6,1191.0 L1008.5,1189.6 L1005.6,1188.1 L1002.8,1186.7 L1000.3,1185.3 L998.0,1184.0 L995.9,1182.7 L994.1,1181.3 L992.6,1179.9 L991.2,1178.6 L990.0,1177.2 L989.0,1175.9 L988.1,1174.7 L987.3,1173.6 L986.6,1172.7 L986.0,1172.0" stroke="#55524d" stroke-width="24"/>
<path d="M998.2,829.3 L1001.3,828.3 L1005.0,827.0 L1009.6,825.2 L1014.9,823.3 L1020.7,821.2 L1027.0,819.3 L1033.7,817.5 L1040.7,816.1 L1047.9,815.2 L1055.1,815.0 L1062.4,815.3 L1070.2,816.1 L1078.3,817.1 L1086.8,818.5 L1095.3,820.1 L1103.9,822.1 L1112.3,824.3 L1120.4,826.8 L1128.2,829.5 L1135.4,832.5 L1142.2,835.8 L1148.7,839.3 L1154.8,843.2 L1160.7,847.3 L1166.4,851.6 L1171.8,856.2 L1177.0,860.9 L1182.0,865.8 L1186.8,870.9 L1191.5,876.0 L1196.1,881.4 L1200.5,886.9 L1204.7,892.7 L1208.8,898.6 L1212.7,904.7 L1216.4,911.0 L1219.8,917.5 L1223.0,924.1 L1226.0,931.0 L1228.4,938.1 L1230.1,945.6 L1231.6,953.3 L1232.9,961.2 L1233.9,969.2 L1234.8,977.3 L1235.6,985.4 L1236.1,993.5 L1236.5,1001.5 L1236.7,1009.3 L1236.7,1017.0 L1236.5,1024.5 L1236.2,1032.1 L1235.6,1039.6 L1234.8,1047.1 L1233.8,1054.6 L1232.5,1061.8 L1230.9,1068.9 L1229.0,1075.8 L1226.9,1082.4 L1224.5,1088.7 L1221.9,1094.8 L1219.1,1100.7 L1216.7,1106.7 L1214.1,1112.5 L1211.3,1118.2 L1208.2,1123.7 L1204.9,1129.0 L1201.3,1134.2 L1197.5,1139.2 L1193.5,1144.0 L1189.1,1148.7 L1184.4,1153.4 L1179.3,1157.9 L1174.0,1162.3 L1168.4,1166.5 L1162.7,1170.5 L1156.9,1174.3 L1151.0,1177.7 L1145.2,1180.8 L1139.6,1183.5 L1133.9,1185.8 L1128.1,1187.8 L1122.0,1189.4 L1115.9,1190.8 L1109.7,1191.9 L1103.4,1192.8 L1097.3,1193.5 L1091.2,1194.1 L1085.3,1194.6 L1079.6,1195.0 L1074.2,1195.3 L1069.0,1195.4 L1063.8,1195.3 L1058.7,1195.0 L1053.7,1194.6 L1048.9,1194.1 L1044.2,1193.4 L1039.7,1192.7 L1035.3,1191.9 L1031.3,1191.1 L1027.5,1190.3 L1023.9,1189.2 L1020.5,1188.1 L1017.2,1186.8 L1014.0,1185.5 L1011.1,1184.1 L1008.3,1182.8 L1005.7,1181.4 L1003.2,1180.1 L1001.1,1178.8 L999.3,1177.8 L997.9,1176.7 L996.7,1175.6 L995.6,1174.5 L994.6,1173.4 L993.7,1172.2 L992.9,1171.1 L992.1,1170.0 L991.3,1168.9 L990.5,1168.0" stroke="#c4bdae" stroke-width="10"/>
<path d="M999.9,834.5 L1003.0,833.6 L1006.9,832.1 L1011.6,830.4 L1016.8,828.4 L1022.5,826.5 L1028.6,824.6 L1035.0,822.9 L1041.6,821.5 L1048.3,820.7 L1055.0,820.5 L1062.0,820.8 L1069.6,821.5 L1077.5,822.5 L1085.8,823.9 L1094.2,825.5 L1102.5,827.4 L1110.8,829.6 L1118.7,832.0 L1126.2,834.7 L1133.2,837.5 L1139.7,840.7 L1145.9,844.1 L1151.8,847.8 L1157.5,851.7 L1162.9,855.9 L1168.2,860.3 L1173.2,864.9 L1178.1,869.7 L1182.8,874.6 L1187.4,879.7 L1191.8,884.9 L1196.1,890.3 L1200.3,895.9 L1204.2,901.6 L1208.0,907.6 L1211.6,913.7 L1214.9,920.0 L1218.0,926.4 L1220.9,933.0 L1223.5,939.8 L1225.8,946.9 L1227.9,954.2 L1229.7,961.9 L1231.3,969.7 L1232.7,977.6 L1233.8,985.6 L1234.8,993.6 L1235.5,1001.5 L1236.1,1009.4 L1236.5,1017.0 L1236.7,1024.5 L1236.8,1032.1 L1236.6,1039.7 L1236.3,1047.2 L1235.7,1054.7 L1235.0,1062.1 L1234.0,1069.4 L1232.7,1076.5 L1231.2,1083.4 L1229.5,1090.1 L1227.5,1096.6 L1225.2,1103.0 L1222.7,1109.2 L1220.0,1115.3 L1217.0,1121.2 L1213.8,1127.0 L1210.3,1132.6 L1206.6,1138.0 L1202.6,1143.3 L1198.4,1148.3 L1193.8,1153.3 L1188.8,1158.1 L1183.6,1162.8 L1178.0,1167.4 L1172.2,1171.8 L1166.3,1175.9 L1160.3,1179.8 L1154.2,1183.4 L1148.2,1186.6 L1142.2,1189.5 L1136.2,1191.9 L1129.9,1194.0 L1123.6,1195.7 L1117.2,1197.1 L1110.7,1198.3 L1104.3,1199.2 L1098.0,1200.0 L1091.8,1200.6 L1085.8,1201.1 L1080.0,1201.5 L1074.4,1201.8 L1068.9,1201.9 L1063.5,1201.8 L1058.2,1201.5 L1053.1,1201.1 L1048.1,1200.5 L1043.2,1199.9 L1038.6,1199.1 L1034.1,1198.3 L1029.9,1197.5 L1025.9,1196.5 L1022.0,1195.4 L1018.3,1194.2 L1014.8,1192.9 L1011.4,1191.5 L1008.3,1190.0 L1005.3,1188.6 L1002.6,1187.1 L1000.1,1185.7 L997.7,1184.4 L995.7,1183.1 L993.8,1181.7 L992.2,1180.3 L990.8,1178.9 L989.6,1177.5 L988.6,1176.2 L987.7,1175.0 L986.9,1173.9 L986.2,1173.0 L985.6,1172.3" stroke="#f5f4f0" stroke-width="2.8"/>
<path d="M1001.9,841.2 L1005.2,840.2 L1009.4,838.7 L1014.0,836.9 L1019.1,835.0 L1024.7,833.1 L1030.5,831.3 L1036.5,829.7 L1042.7,828.5 L1048.8,827.7 L1054.9,827.5 L1061.5,827.8 L1068.8,828.5 L1076.5,829.5 L1084.6,830.8 L1092.7,832.4 L1100.9,834.2 L1108.9,836.3 L1116.5,838.7 L1123.8,841.2 L1130.4,843.9 L1136.5,846.9 L1142.3,850.1 L1148.0,853.6 L1153.4,857.4 L1158.6,861.4 L1163.6,865.6 L1168.4,870.0 L1173.1,874.6 L1177.7,879.4 L1182.1,884.3 L1186.4,889.3 L1190.6,894.5 L1194.6,899.9 L1198.4,905.5 L1202.0,911.2 L1205.4,917.1 L1208.7,923.1 L1211.6,929.3 L1214.4,935.7 L1216.9,942.2 L1219.1,948.9 L1221.1,956.0 L1222.9,963.4 L1224.4,971.0 L1225.8,978.7 L1226.9,986.5 L1227.8,994.4 L1228.6,1002.1 L1229.1,1009.8 L1229.5,1017.3 L1229.7,1024.6 L1229.8,1032.1 L1229.6,1039.5 L1229.3,1046.8 L1228.8,1054.1 L1228.0,1061.3 L1227.1,1068.3 L1225.9,1075.2 L1224.4,1081.8 L1222.8,1088.2 L1220.8,1094.4 L1218.7,1100.5 L1216.3,1106.5 L1213.7,1112.3 L1210.8,1118.0 L1207.8,1123.4 L1204.5,1128.8 L1200.9,1133.9 L1197.1,1138.9 L1193.1,1143.7 L1188.8,1148.4 L1184.1,1153.0 L1179.0,1157.5 L1173.7,1161.9 L1168.1,1166.1 L1162.4,1170.1 L1156.6,1173.8 L1150.8,1177.3 L1145.0,1180.4 L1139.4,1183.1 L1133.7,1185.3 L1127.9,1187.3 L1121.9,1188.9 L1115.8,1190.3 L1109.6,1191.4 L1103.4,1192.3 L1097.2,1193.0 L1091.1,1193.6 L1085.2,1194.1 L1079.6,1194.5 L1074.2,1194.8 L1069.0,1194.9 L1063.8,1194.8 L1058.7,1194.5 L1053.7,1194.1 L1048.9,1193.6 L1044.2,1192.9 L1039.7,1192.2 L1035.4,1191.4 L1031.4,1190.6 L1027.6,1189.8 L1024.0,1188.8 L1020.6,1187.6 L1017.4,1186.4 L1014.2,1185.1 L1011.3,1183.7 L1008.5,1182.3 L1005.9,1180.9 L1003.5,1179.6 L1001.3,1178.4 L999.6,1177.3 L998.2,1176.3 L997.0,1175.2 L996.0,1174.1 L995.0,1173.0 L994.1,1171.9 L993.3,1170.8 L992.5,1169.7 L991.7,1168.6 L990.9,1167.7" stroke="#f5f4f0" stroke-width="2.6"/>
<path d="M997.2,825.9 L1000.1,825.0 L1003.8,823.7 L1008.4,822.0 L1013.7,820.0 L1019.7,817.9 L1026.1,815.9 L1032.9,814.1 L1040.1,812.7 L1047.6,811.7 L1055.1,811.5 L1062.6,811.9 L1070.5,812.6 L1078.8,813.6 L1087.4,815.0 L1096.0,816.7 L1104.7,818.7 L1113.2,820.9 L1121.5,823.5 L1129.4,826.3 L1136.9,829.3 L1143.8,832.7 L1150.4,836.3 L1156.8,840.3 L1162.8,844.5 L1168.6,848.9 L1174.1,853.6 L1179.4,858.4 L1184.5,863.4 L1189.4,868.5 L1194.1,873.7 L1198.8,879.2 L1203.3,884.8 L1207.6,890.6 L1211.7,896.6 L1215.7,902.9 L1219.4,909.3 L1222.9,915.9 L1226.2,922.7 L1229.2,929.7 L1232.0,936.8 L1234.4,944.3 L1236.6,952.0 L1238.5,959.9 L1240.2,968.0 L1241.6,976.2 L1242.8,984.4 L1243.7,992.6 L1244.5,1000.8 L1245.1,1008.8 L1245.5,1016.6 L1245.7,1024.4 L1245.8,1032.2 L1245.6,1040.0 L1245.3,1047.8 L1244.7,1055.5 L1243.9,1063.2 L1242.9,1070.8 L1241.6,1078.2 L1240.0,1085.5 L1238.1,1092.6 L1236.0,1099.5 L1233.6,1106.2 L1231.0,1112.8 L1228.1,1119.2 L1225.0,1125.5 L1221.5,1131.6 L1217.8,1137.5 L1213.9,1143.3 L1209.7,1148.9 L1205.1,1154.3 L1200.2,1159.5 L1195.0,1164.7 L1189.4,1169.7 L1183.6,1174.5 L1177.5,1179.1 L1171.3,1183.4 L1165.0,1187.5 L1158.6,1191.2 L1152.2,1194.6 L1145.8,1197.7 L1139.3,1200.4 L1132.5,1202.6 L1125.7,1204.5 L1118.9,1206.0 L1112.2,1207.2 L1105.5,1208.2 L1098.9,1208.9 L1092.6,1209.6 L1086.5,1210.0 L1080.6,1210.5 L1074.7,1210.8 L1068.9,1210.9 L1063.2,1210.8 L1057.6,1210.5 L1052.2,1210.0 L1047.0,1209.4 L1041.9,1208.8 L1037.1,1208.0 L1032.5,1207.2 L1028.0,1206.3 L1023.6,1205.3 L1019.3,1204.0 L1015.3,1202.7 L1011.4,1201.2 L1007.8,1199.7 L1004.4,1198.1 L1001.3,1196.6 L998.4,1195.1 L995.7,1193.6 L993.2,1192.2 L990.6,1190.5 L988.1,1188.7 L986.0,1186.8 L984.2,1185.0 L982.7,1183.2 L981.4,1181.7 L980.4,1180.3 L979.7,1179.3 L979.2,1178.7 L978.9,1178.3" stroke="#e8e6e0" stroke-width="2.2" opacity="0.8"/>
</g>

<!-- metal loop (slider) -->
<path d="M1562,1162 C1562,1188 1585,1196 1607,1196 C1628,1196 1642,1188 1650,1181 C1660,1189 1672,1196 1692,1196 C1718,1196 1737,1182 1737,1162 Z" fill="#1c1917"/>
<g fill="none" stroke="#1d1f23" stroke-linecap="round" stroke-linejoin="round">
  <path d="M1560,885 C1560,846 1580,829 1604,829 C1625,829 1639,837 1646,846 C1655,836 1670,828 1694,828 C1721,828 1736,848 1736,885" stroke-width="11.5"/>
  <path d="M1562,1150 C1562,1188 1585,1196 1607,1196 C1628,1196 1642,1188 1650,1181 C1660,1189 1672,1196 1692,1196 C1718,1196 1737,1182 1737,1150" stroke-width="12.5"/>
  <path d="M1565.4,860 L1565.4,1165" stroke-width="23.6" stroke-linecap="butt"/>
  <path d="M1733,860 L1733,1165" stroke-width="18.6" stroke-linecap="butt"/>
  <path d="M1556,858 Q1558,846 1570,846 Q1578,847 1577,860" stroke-width="8"/>
  <g stroke="#6b6d72" stroke-width="1.8" opacity="0.9">
    <path d="M1572,852 C1578,840 1590,835 1604,835 C1620,835 1632,841 1638,848"/>
    <path d="M1660,844 C1670,837 1682,834 1694,834 C1712,834 1724,845 1729,860"/>
    <path d="M1572,1176 C1578,1186 1590,1190 1607,1190 C1622,1190 1632,1186 1640,1180"/>
    <path d="M1662,1182 C1670,1188 1680,1190 1692,1190 C1710,1190 1724,1182 1729,1170"/>
  </g>
</g>

<!-- buckle -->
<g>
  <path d="M104,810 Q105,796 120,796 L470,795 Q482,796 484,808 L484,830 L104,830 Z" fill="url(#topPlate)"/>
  <path d="M106,1164 L484,1164 L484,1188 Q482,1194 474,1194 L118,1194 Q108,1193 108,1185 Z" fill="url(#botPlate)"/>
  <rect x="102.5" y="828" width="380" height="339" rx="16" fill="url(#faceH)"/>
  <rect x="102.5" y="828" width="380" height="339" rx="16" fill="url(#faceV)"/>
  <rect x="172" y="868" width="266" height="252" rx="52" fill="#c6c6c6" opacity="0.6" filter="url(#blur6)"/>
  <rect x="192" y="886" width="230" height="218" rx="40" fill="#cdcdcd" opacity="0.6" filter="url(#blur3)"/>
  <rect x="204" y="895" width="210" height="198" rx="31" fill="#d4d4d4"/>
  <path d="M206,920 Q206,899 236,899 L378,899 Q408,899 408,920" fill="none" stroke="#4a4a4a" stroke-width="5" opacity="0.55" filter="url(#blur3)"/>
  <path d="M206,960 L206,928 Q206,897 238,897 L380,897" fill="none" stroke="#f2f2f2" stroke-width="3" opacity="0.8"/>
  <rect x="209.5" y="901" width="199" height="187" rx="27" fill="#0e0c0e"/>
  <rect x="228" y="910" width="164" height="30" rx="14" fill="#ffffff" opacity="0.16" filter="url(#blur6)"/>
  <rect x="215" y="930" width="14" height="140" rx="7" fill="#ffffff" opacity="0.07" filter="url(#blur3)"/>
  <!-- bone -->
  <g fill="#c5c5c7">
    <circle cx="276" cy="940.5" r="23"/>
    <circle cx="247.5" cy="974" r="23.5"/>
    <circle cx="371" cy="1009" r="23"/>
    <circle cx="341.5" cy="1041.5" r="27"/>
    <path d="M288,953 Q318,984 354,993 L346,1007 Q312,994 276,974 Z"/>
    <path d="M258,984 Q300,996 342,1017 L337,1027 Q300,1008 256,996 Z"/>
  </g>
  <g fill="#0e0c0e">
    <path d="M248,955 Q253,961 247,969 Q240,976 236,972 Q233,961 248,955 Z"/>
    <path d="M346,1020 Q351,1041 341,1060 Q335,1066 327,1057 Q318,1041 330,1027 Q337,1021 346,1020 Z"/>
    <path d="M361,1031 Q371,1015 386,1011 Q393,1013 390,1023 Q381,1031 361,1031 Z"/>
  </g>
  <!-- clip -->
  <path d="M476,803 Q486,798 498,799 L512,803 Q522,808 523,820 L524,1172 Q523,1190 510,1193 L488,1196 L476,1192 Z" fill="url(#clipG)"/>
  <path d="M492,812 L512,812 Q517,814 517,822 L517,1176 Q516,1184 508,1184 L492,1184 Z" fill="#57585b" opacity="0.7"/>
  <path d="M480,815 L492,812 L489,864 L482,862 Z" fill="#dfe3e8" opacity="0.55"/>
  <path d="M480,1138 L488,1136 L494,1182 L484,1186 Z" fill="#d8d8d8" opacity="0.45"/>
</g>

<!-- callouts -->
<g fill="#3a3a3a" stroke="none">
  <rect x="897.3" y="258" width="4.2" height="534"/>
  <rect x="899" y="793.6" width="167" height="4.2"/>
  <circle cx="898.5" cy="257.8" r="18"/>
  <circle cx="899" cy="791" r="18"/>
  <circle cx="1065.7" cy="790" r="18"/>
  <rect x="1641.2" y="1224" width="4" height="259"/>
  <rect x="1044" y="1482.9" width="597" height="4"/>
  <circle cx="1642" cy="1223.5" r="18"/>
  <circle cx="1044" cy="1486.5" r="18"/>
  <circle cx="1639.5" cy="1482.4" r="18"/>
</g>

<!-- text -->
<text x="967" y="283.3" font-size="104.6" fill="#04476f" stroke="#04476f" stroke-width="3" textLength="829" lengthAdjust="spacingAndGlyphs">CHROME D-RING</text>
<text x="972" y="365.8" font-size="53" fill="#0587c3" stroke="#0587c3" stroke-width="2.4" textLength="750" lengthAdjust="spacingAndGlyphs">TO ATTACH LEASH AND TAGS</text>
<text x="484.5" y="1609.5" font-size="104.6" fill="#04476f" stroke="#04476f" stroke-width="3" textLength="1141" lengthAdjust="spacingAndGlyphs">NON-SLIP METAL LOOP</text>
<text x="484.3" y="1698.8" font-size="53" fill="#0587c3" stroke="#0587c3" stroke-width="2.4" textLength="607" lengthAdjust="spacingAndGlyphs">TO EASILY ADJUST SIZE</text>
</svg>
</body></html>
